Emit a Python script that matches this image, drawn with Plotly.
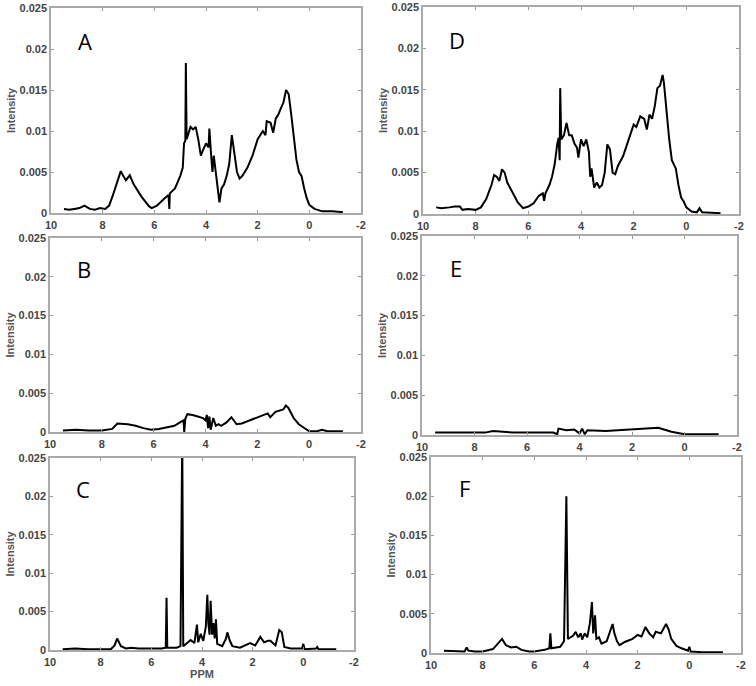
import plotly.graph_objects as go
from plotly.subplots import make_subplots

# spectrum A
a_ppm = [9.5, 9.3, 9.1, 8.9, 8.7, 8.5, 8.3, 8.1, 7.9, 7.75, 7.6, 7.45, 7.3, 7.2, 7.1, 6.95, 6.8, 6.5, 6.2, 6.1,
         5.9, 5.6, 5.45, 5.42, 5.4, 5.2, 5.0, 4.9, 4.85, 4.8, 4.78, 4.75, 4.6, 4.5, 4.4, 4.3, 4.2, 4.1, 4.0,
         3.9, 3.87, 3.8, 3.75, 3.7, 3.6, 3.55, 3.48, 3.4, 3.3, 3.2, 3.1, 3.0, 2.9, 2.8, 2.7, 2.6, 2.4, 2.2,
         2.0, 1.9, 1.8, 1.7, 1.65, 1.5, 1.4, 1.3, 1.2, 1.1, 1.0, 0.9, 0.8, 0.7, 0.6, 0.5, 0.4, 0.3, 0.2,
         0.1, 0.0, -0.2, -0.5, -0.9, -1.3]
a_int = [0.0005, 0.0004, 0.0005, 0.0006, 0.0009, 0.0005, 0.0004, 0.0006, 0.0005, 0.0009, 0.0022, 0.0038, 0.0051,
         0.0045, 0.004, 0.0046, 0.0035, 0.002, 0.0008, 0.0006, 0.0009, 0.0018, 0.0022, 0.0005, 0.0024, 0.003,
         0.0045, 0.0055, 0.0085, 0.0088, 0.0183, 0.009, 0.0105, 0.0102, 0.0105, 0.009, 0.007, 0.0078, 0.0085,
         0.008, 0.0103, 0.007, 0.005, 0.007, 0.0045, 0.003, 0.0013, 0.003, 0.0035, 0.0045, 0.006, 0.0095,
         0.0075, 0.005, 0.0042, 0.0045, 0.0055, 0.007, 0.009, 0.0095, 0.01, 0.0095, 0.0112, 0.011, 0.0098,
         0.0115, 0.012, 0.0128, 0.0135, 0.015, 0.0145, 0.012, 0.009, 0.0065, 0.005, 0.0045, 0.003, 0.0018,
         0.001, 0.0005, 0.0002, 0.0002, 0.0001]

# spectrum D
d_ppm = [9.5, 9.3, 9.0, 8.8, 8.6, 8.5, 8.3, 8.0, 7.8, 7.6, 7.4, 7.3, 7.2, 7.1, 7.0, 6.9, 6.8, 6.6, 6.4, 6.2,
         6.0, 5.8, 5.6, 5.45, 5.4, 5.35, 5.2, 5.1, 5.0, 4.9, 4.85, 4.81, 4.79, 4.75, 4.65, 4.55, 4.45, 4.35,
         4.25, 4.15, 4.1, 4.0, 3.9, 3.8, 3.7, 3.65, 3.6, 3.5, 3.4, 3.3, 3.2, 3.1, 3.0, 2.9, 2.8, 2.7, 2.6,
         2.4, 2.2, 2.0, 1.9, 1.75, 1.6, 1.5, 1.4, 1.3, 1.2, 1.1, 1.0, 0.9, 0.85, 0.75, 0.65, 0.55, 0.4,
         0.3, 0.2, 0.1, 0.0, -0.2, -0.4, -0.5, -0.6, -1.3]
d_int = [0.0008, 0.0007, 0.0008, 0.0009, 0.0009, 0.0005, 0.0006, 0.0005, 0.0008, 0.0018, 0.0035, 0.0047, 0.0045,
         0.004, 0.0054, 0.005, 0.0038, 0.0025, 0.0014, 0.0007, 0.0009, 0.0013, 0.0022, 0.0025, 0.0016, 0.0025,
         0.0035, 0.0045, 0.006, 0.0085, 0.0092, 0.0065, 0.0152, 0.009, 0.0095, 0.011, 0.0095, 0.0095, 0.0085,
         0.008, 0.0068, 0.009, 0.0082, 0.009, 0.0075, 0.0045, 0.0055, 0.0032, 0.0038, 0.0032, 0.0035, 0.005,
         0.0084, 0.0078, 0.005, 0.0048, 0.0058, 0.007, 0.009, 0.0108, 0.0105, 0.0118, 0.0115, 0.0102, 0.012,
         0.0115, 0.013, 0.0152, 0.0155, 0.0168, 0.0158, 0.012, 0.009, 0.0065, 0.0055, 0.0035, 0.002, 0.0015,
         0.0008, 0.0003, 0.0002, 0.0007, 0.0002, 0.0001]

# spectrum B
b_ppm = [9.5, 9.0, 8.5, 8.0, 7.6, 7.4, 7.0, 6.7, 6.4, 6.1, 5.8, 5.5, 5.2, 5.0, 4.85, 4.82, 4.78, 4.7, 4.5,
         4.3, 4.1, 4.0, 3.95, 3.9, 3.85, 3.8, 3.7, 3.6, 3.5, 3.4, 3.2, 3.0, 2.8, 2.6, 2.3, 2.0, 1.8, 1.6,
         1.5, 1.3, 1.0, 0.9, 0.8, 0.6, 0.4, 0.2, 0.0, -0.3, -0.5, -0.7, -1.3]
b_int = [0.0002, 0.0003, 0.0002, 0.0002, 0.0004, 0.0011, 0.001, 0.0008, 0.0005, 0.0003, 0.0004, 0.0006, 0.0008,
         0.0012, 0.0015, 0.0, 0.0017, 0.0023, 0.0022, 0.002, 0.0018, 0.0015, 0.0022, 0.0005, 0.002, 0.0003,
         0.0018, 0.0008, 0.001, 0.0008, 0.0012, 0.0019, 0.001, 0.0011, 0.0015, 0.0019, 0.0021, 0.0024, 0.0019,
         0.0026, 0.0029, 0.0034, 0.0031, 0.0018, 0.001, 0.0005, 0.0001, 0.0001, 0.0003, 0.0001, 0.0001]

# spectrum E
e_ppm = [9.5, 8.5, 7.6, 7.3, 6.5, 5.5, 5.0, 4.85, 4.8, 4.5, 4.2, 4.0, 3.9, 3.8, 3.7, 3.0, 2.0, 1.0, 0.5,
         0.2, 0.0, -1.3]
e_int = [0.0003, 0.0003, 0.0003, 0.0005, 0.0003, 0.0003, 0.0003, 0.0001, 0.0008, 0.0006, 0.0007, 0.0002,
         0.0008, 0.0001, 0.0006, 0.0005, 0.0007, 0.0009, 0.0004, 0.0002, 0.0001, 0.0001]

# spectrum C
c_ppm = [9.5, 9.0, 8.5, 8.0, 7.6, 7.45, 7.35, 7.2, 7.0, 6.8, 6.5, 6.0, 5.6, 5.43, 5.4, 5.37, 5.2, 5.0, 4.85,
         4.78, 4.74, 4.6, 4.45, 4.3, 4.2, 4.15, 4.05, 3.95, 3.85, 3.79, 3.75, 3.7, 3.66, 3.6, 3.55, 3.5,
         3.45, 3.4, 3.2, 3.05, 3.0, 2.9, 2.8, 2.5, 2.1, 1.9, 1.7, 1.55, 1.4, 1.3, 1.1, 0.95, 0.85, 0.75,
         0.5, 0.05, 0.0, -0.05, -0.5, -0.55, -0.6, -1.3]
c_int = [0.0001, 0.0002, 0.0001, 0.0001, 0.0001, 0.0006, 0.0015, 0.0005, 0.0002, 0.0003, 0.0002, 0.0002, 0.0002,
         0.0003, 0.0068, 0.0003, 0.0003, 0.0003, 0.0005, 0.028, 0.0005, 0.0009, 0.0013, 0.0009, 0.0033, 0.001,
         0.0021, 0.0012, 0.003, 0.0072, 0.0035, 0.002, 0.0064, 0.002, 0.0035, 0.0015, 0.004, 0.0008, 0.0005,
         0.0015, 0.0023, 0.0012, 0.0005, 0.0003, 0.0009, 0.0006, 0.0017, 0.001, 0.0012, 0.0012, 0.0006,
         0.0026, 0.0023, 0.0004, 0.0002, 0.0002, 0.0008, 0.0001, 0.0002, 0.0004, 0.0001, 0.0001]

# spectrum F
f_ppm = [9.5, 9.0, 8.7, 8.62, 8.55, 8.3, 8.0, 7.6, 7.4, 7.25, 7.1, 6.9, 6.7, 6.5, 6.2, 6.0, 5.6, 5.42, 5.38,
         5.34, 5.0, 4.85, 4.76, 4.7, 4.5, 4.4, 4.3, 4.2, 4.15, 4.05, 3.95, 3.85, 3.77, 3.72, 3.65, 3.6, 3.5,
         3.4, 3.2, 2.97, 2.9, 2.8, 2.7, 2.5, 2.2, 2.0, 1.85, 1.7, 1.55, 1.4, 1.3, 1.1, 0.9, 0.8, 0.7, 0.5,
         0.3, 0.1, 0.05, 0.0, -0.05, -0.5, -1.3]
f_int = [0.0003, 0.0002, 0.0002, 0.0007, 0.0003, 0.0002, 0.0002, 0.0005, 0.0012, 0.0018, 0.001, 0.0007, 0.0008,
         0.0004, 0.0002, 0.0002, 0.0004, 0.0006, 0.0025, 0.0006, 0.0008, 0.0015, 0.02, 0.0018, 0.0022, 0.0027,
         0.002, 0.0025, 0.0017, 0.0025, 0.002, 0.0038, 0.0065, 0.0025, 0.0048, 0.0018, 0.002, 0.0012, 0.0015,
         0.0037, 0.0025, 0.0015, 0.001, 0.0014, 0.0018, 0.0023, 0.0021, 0.0033, 0.0025, 0.002, 0.0027, 0.0025,
         0.0037, 0.003, 0.0018, 0.0009, 0.0006, 0.0003, 0.0003, 0.0008, 0.0002, 0.0001, 0.0001]

panel_labels = ["A", "D", "B", "E", "C", "F"]
x_ticks = [10, 8, 6, 4, 2, 0, -2]
y_ticks = [0, 0.005, 0.01, 0.015, 0.02, 0.025]
y_tick_text = ["0", "0.005", "0.01", "0.015", "0.02", "0.025"]

spectra = [(a_ppm, a_int), (d_ppm, d_int), (b_ppm, b_int), (e_ppm, e_int), (c_ppm, c_int), (f_ppm, f_int)]

W, H = 756, 686
# pixel boxes (left, right, top, bottom) of each panel
boxes = [(51, 361, 8, 213), (423, 739, 7, 214),
         (50, 361, 238, 432), (422, 737, 236, 435),
         (50, 354, 458, 650), (431, 741, 457, 653)]

fig = make_subplots(rows=3, cols=2)
tick_font = dict(family="Arial", size=11, color="#444444", weight="bold")
title_font = dict(family="Arial", size=11, color="#555555", weight="bold")

for i, (xs, ys) in enumerate(spectra):
    r, c = i // 2 + 1, i % 2 + 1
    fig.add_trace(go.Scatter(x=xs, y=ys, mode="lines", line=dict(color="black", width=2),
                             showlegend=False), row=r, col=c)
    l, rr, t, b = boxes[i]
    sfx = "" if i == 0 else str(i + 1)
    fig.layout["xaxis" + sfx].update(
        domain=[l / W, rr / W], range=[10, -2], tickvals=x_ticks, ticktext=[str(v) for v in x_ticks],
        ticks="inside", ticklen=3, tickcolor="#999999", showline=True, linecolor="#aaaaaa", linewidth=1.5,
        mirror="ticks", showgrid=False, zeroline=False, tickfont=tick_font, ticklabelstandoff=1,
        automargin=False)
    fig.layout["yaxis" + sfx].update(
        domain=[1 - b / H, 1 - t / H], range=[0, 0.025], tickvals=y_ticks, ticktext=y_tick_text,
        ticks="inside", ticklen=3, tickcolor="#999999", showline=True, linecolor="#aaaaaa", linewidth=1.5,
        mirror="ticks", showgrid=False, zeroline=False, tickfont=tick_font, automargin=False,
        title=dict(text="Intensity", font=title_font, standoff=2))
    fig.add_annotation(x=8.7, y=0.021, text=panel_labels[i], showarrow=False,
                       xref="x" + sfx, yref="y" + sfx,
                       font=dict(family="Open Sans", size=22, color="black"))

fig.layout["xaxis5"].title = dict(text="PPM", font=title_font, standoff=0)

fig.update_layout(width=W, height=H, margin=dict(l=0, r=0, t=0, b=0),
                  paper_bgcolor="white", plot_bgcolor="white")

# drop the default page margin so the figure fills the window exactly
fig.write_html("out.html", config={"displayModeBar": False},
               post_script="document.body.style.margin='0px';")
